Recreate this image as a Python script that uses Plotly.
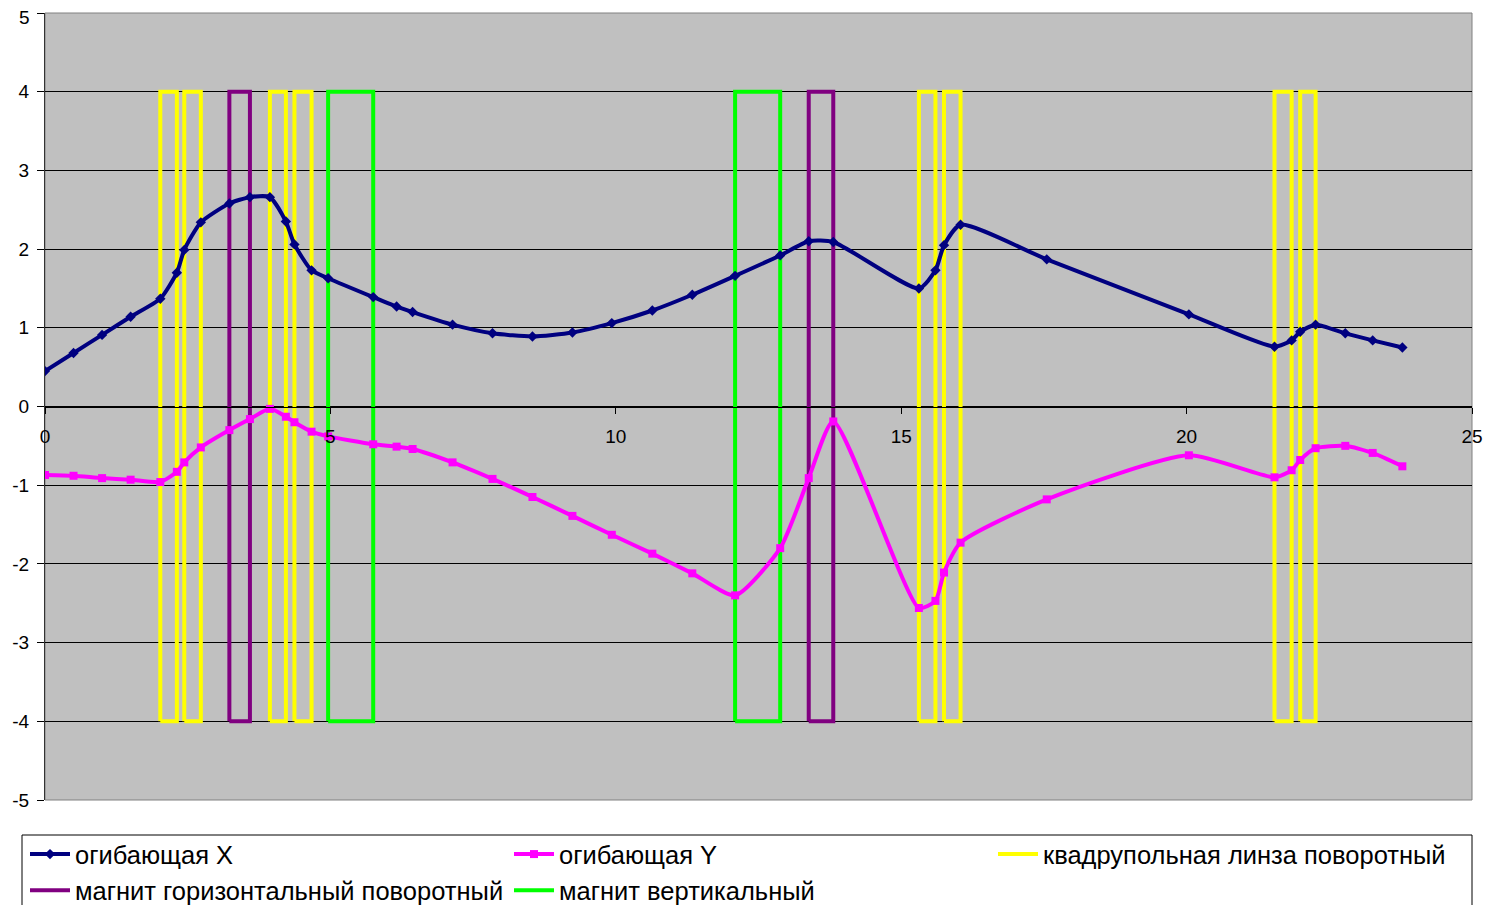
import plotly.graph_objects as go

# Positions along the beamline (shared by both envelopes)
pos = [0, 0.5, 1.0, 1.5, 2.02, 2.31, 2.44, 2.73, 3.23, 3.59, 3.94, 4.22, 4.37, 4.67,
       4.96, 5.75, 6.16, 6.44, 7.14, 7.84, 8.54, 9.24, 9.93, 10.64, 11.34, 12.09,
       12.88, 13.38, 13.81, 15.31, 15.6, 15.75, 16.04, 17.55, 20.04, 21.54, 21.84,
       21.99, 22.26, 22.78, 23.26, 23.78]
env_x = [0.45, 0.68, 0.91, 1.14, 1.37, 1.70, 1.99, 2.34, 2.58, 2.66, 2.66, 2.35, 2.06,
         1.73, 1.63, 1.39, 1.27, 1.20, 1.04, 0.93, 0.89, 0.94, 1.06, 1.22, 1.42, 1.66,
         1.92, 2.10, 2.09, 1.50, 1.73, 2.05, 2.31, 1.87, 1.17, 0.76, 0.84, 0.95, 1.04,
         0.93, 0.84, 0.75]
env_y = [-0.87, -0.88, -0.91, -0.93, -0.96, -0.83, -0.71, -0.52, -0.30, -0.16, -0.03,
         -0.13, -0.20, -0.32, -0.38, -0.48, -0.51, -0.54, -0.71, -0.92, -1.15, -1.39,
         -1.63, -1.87, -2.12, -2.40, -1.80, -0.91, -0.19, -2.56, -2.47, -2.11, -1.73,
         -1.18, -0.62, -0.90, -0.81, -0.68, -0.53, -0.50, -0.59, -0.76]

# Elements (start, end)
quad_start = [2.02, 2.44, 3.94, 4.37, 15.31, 15.75, 21.54, 21.99]
quad_end = [2.31, 2.73, 4.22, 4.67, 15.60, 16.04, 21.84, 22.26]
hmag_start = [3.23, 13.38]
hmag_end = [3.59, 13.81]
vmag_start = [4.96, 12.09]
vmag_end = [5.75, 12.88]
elem_low, elem_high = -4, 4

x_ticks = [0, 5, 10, 15, 20, 25]
y_ticks = [-5, -4, -3, -2, -1, 0, 1, 2, 3, 4, 5]

names = ["огибающая X", "огибающая Y", "квадрупольная линза поворотный",
         "магнит горизонтальный поворотный", "магнит вертикальный"]

FONT = "Liberation Sans, Arial, sans-serif"


def rects(starts, ends):
    xs, ys = [], []
    for a, b in zip(starts, ends):
        xs += [a, a, b, b, a, None]
        ys += [elem_low, elem_high, elem_high, elem_low, elem_low, None]
    return xs, ys


fig = go.Figure()
for (s, e), name, col, rank in [((quad_start, quad_end), names[2], "#FFFF00", 3),
                                ((hmag_start, hmag_end), names[3], "#800080", 4),
                                ((vmag_start, vmag_end), names[4], "#00FF00", 5)]:
    xs, ys = rects(s, e)
    fig.add_trace(go.Scatter(x=xs, y=ys, mode="lines", name=name, legendrank=rank,
                             line=dict(color=col, width=4), hoverinfo="skip"))

fig.add_trace(go.Scatter(x=pos, y=env_x, mode="lines+markers", name=names[0], legendrank=1,
                         line=dict(color="#000080", width=4, shape="spline", smoothing=0.6),
                         marker=dict(symbol="diamond", size=8, color="#000080")))
fig.add_trace(go.Scatter(x=pos, y=env_y, mode="lines+markers", name=names[1], legendrank=2,
                         line=dict(color="#FF00FF", width=4, shape="spline", smoothing=0.6),
                         marker=dict(symbol="square", size=8, color="#FF00FF")))

# page offset of the figure div (default body margin)
OFF = 8
W, H = 1495 - OFF, 905 - OFF
# plot area in page pixels
PL, PR, PT, PB = 45, 1472, 13, 800
L, R, T, B = PL - OFF, W - (PR - OFF), PT - OFF, H - (PB - OFF)
pw, ph = W - L - R, H - T - B


def px2paper_x(p):
    return (p - OFF - L) / pw


def px2paper_y(p):
    return (H - B - (p - OFF)) / ph


# the top tick label would touch the page edge; draw it as an annotation nudged down
y_ticktext = [str(v) for v in y_ticks[:-1]] + [""]

fig.update_layout(
    width=W, height=H,
    margin=dict(l=L, r=R, t=T, b=B, autoexpand=False),
    paper_bgcolor="white",
    plot_bgcolor="#C0C0C0",
    font=dict(family=FONT, size=19, color="black"),
    showlegend=True,
    legend=dict(orientation="h", x=px2paper_x(25), y=px2paper_y(831),
                xanchor="left", yanchor="top", font=dict(size=25.5, family=FONT),
                entrywidth=429, entrywidthmode="pixels", itemwidth=40,
                bgcolor="rgba(0,0,0,0)", tracegroupgap=0),
    xaxis=dict(range=[0, 25], tickvals=x_ticks, ticktext=[str(v) for v in x_ticks],
               showgrid=False, zeroline=False, automargin=False,
               anchor="free", position=0.5, showline=True, linecolor="black", linewidth=1,
               ticks="outside", ticklen=6, tickcolor="black", ticklabelstandoff=7,
               ticklabeloverflow="allow",
               tickfont=dict(size=19, family=FONT)),
    yaxis=dict(range=[-5, 5], tickvals=y_ticks, ticktext=y_ticktext,
               showgrid=True, gridcolor="black", gridwidth=1, automargin=False,
               zeroline=False, showline=True, linecolor="#333333", linewidth=1,
               ticks="outside", ticklen=7, tickcolor="black", ticklabelstandoff=4,
               ticklabeloverflow="allow",
               tickfont=dict(size=19, family=FONT)),
    annotations=[dict(text=str(y_ticks[-1]), xref="paper", yref="y", x=0, y=y_ticks[-1],
                      xanchor="right", yanchor="top", xshift=-13, yshift=8,
                      showarrow=False, font=dict(size=19, family=FONT, color="black"))],
    shapes=[
        dict(type="rect", xref="paper", yref="paper", x0=0, x1=1, y0=0, y1=1,
             line=dict(color="#808080", width=1), layer="below"),
        dict(type="rect", xref="paper", yref="paper",
             x0=px2paper_x(22), x1=px2paper_x(1472), y0=px2paper_y(835), y1=px2paper_y(920),
             line=dict(color="black", width=1), fillcolor="rgba(0,0,0,0)"),
    ],
)

fig.write_html("out.html")
